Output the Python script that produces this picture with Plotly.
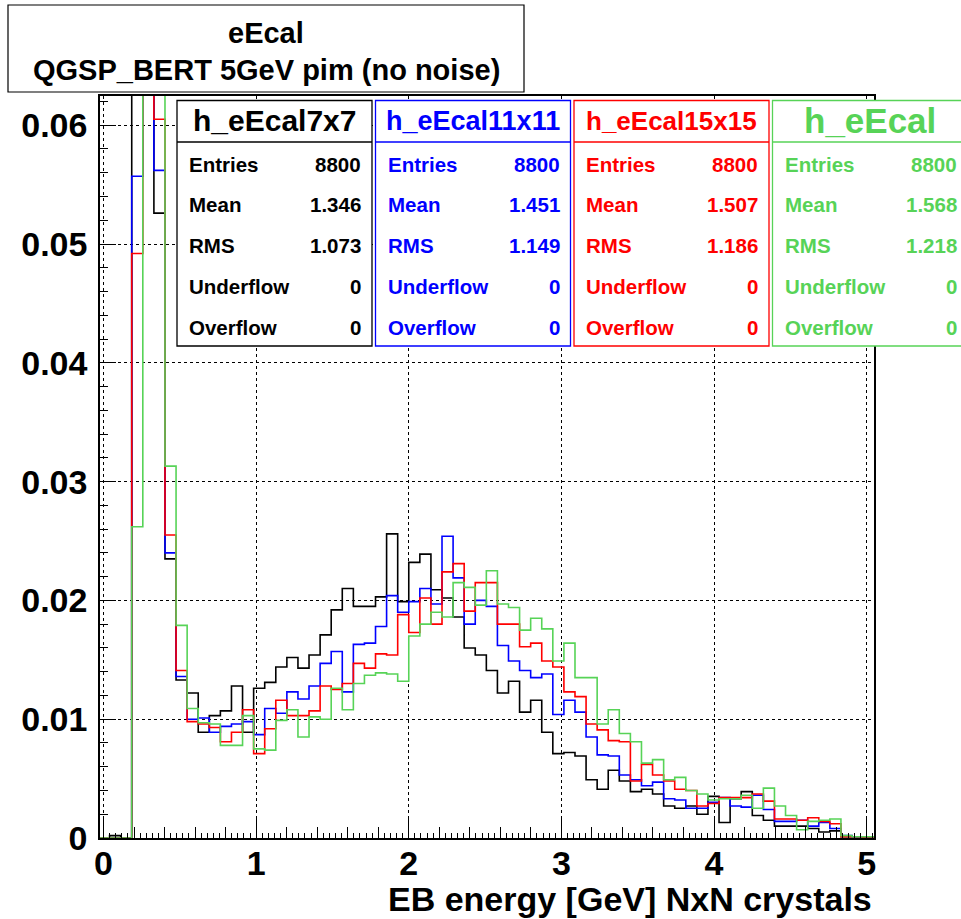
import plotly.graph_objects as go

# ---------------- data ----------------
bin_low = -0.0328
bin_width = 0.0726

names = ["h_eEcal7x7", "h_eEcal11x11", "h_eEcal15x15", "h_eEcal"]

h_7x7 = [0, 0.0002, 0, 0.070, 0.090, 0.0526, 0.0235, 0.0133, 0.0122, 0.0089,
         0.0103, 0.0107, 0.0128, 0.0089, 0.0126, 0.0131, 0.0144, 0.0152, 0.0143, 0.0154,
         0.0171, 0.0192, 0.0210, 0.0195, 0.0195, 0.0203, 0.0256, 0.0199, 0.0232, 0.0239,
         0.0209, 0.0202, 0.0186, 0.0160, 0.0154, 0.0141, 0.0122, 0.0132, 0.0106, 0.0116,
         0.0089, 0.0071, 0.0072, 0.0069, 0.0049, 0.0041, 0.0057, 0.0048, 0.0039, 0.0041,
         0.0037, 0.0027, 0.0025, 0.0027, 0.0020, 0.0035, 0.0013, 0.0033, 0.0039, 0.0019,
         0.0015, 0.0010, 0.0010, 0.0010, 0.0008, 0.0005, 0.0006, 0.0001, 0.0001, 0.0]

h_11x11 = [0, 0, 0, 0.0557, 0.085, 0.0562, 0.0240, 0.0136, 0.0100, 0.0101,
           0.0089, 0.0094, 0.0096, 0.0098, 0.0087, 0.0109, 0.0105, 0.0123, 0.0117, 0.0128,
           0.0147, 0.0157, 0.0123, 0.0163, 0.0164, 0.0178, 0.0204, 0.0190, 0.0199, 0.0210,
           0.0197, 0.0254, 0.0219, 0.0180, 0.0200, 0.0195, 0.0162, 0.0149, 0.0141, 0.0135,
           0.0138, 0.0104, 0.0116, 0.0106, 0.0085, 0.0070, 0.0069, 0.0053, 0.0049, 0.0044,
           0.0047, 0.0033, 0.0032, 0.0025, 0.0025, 0.0030, 0.0034, 0.0027, 0.0026, 0.0036,
           0.0024, 0.0014, 0.0014, 0.0015, 0.0010, 0.0013, 0.0008, 0.0002, 0.0001, 0.0]

h_15x15 = [0, 0, 0, 0.0492, 0.080, 0.0605, 0.0255, 0.0141, 0.0098, 0.0096,
           0.0093, 0.0081, 0.0089, 0.0108, 0.0071, 0.0092, 0.0116, 0.0103, 0.0103, 0.0107,
           0.0128, 0.0125, 0.0130, 0.0147, 0.0143, 0.0155, 0.0154, 0.0188, 0.0173, 0.0202,
           0.0180, 0.0224, 0.0231, 0.0191, 0.0215, 0.0215, 0.0180, 0.0180, 0.0161, 0.0164,
           0.0149, 0.0144, 0.0123, 0.0119, 0.0096, 0.0091, 0.0082, 0.0081, 0.0048, 0.0062,
           0.0053, 0.0048, 0.0041, 0.0040, 0.0027, 0.0029, 0.0034, 0.0034, 0.0034, 0.0037,
           0.0031, 0.0016, 0.0016, 0.0015, 0.0017, 0.0014, 0.0012, 0.0001, 0.0001, 0.0]

h_full = [0, 0, 0, 0.0262, 0.075, 0.068, 0.0313, 0.0179, 0.0109, 0.0097,
          0.0096, 0.0078, 0.0078, 0.0103, 0.0075, 0.0074, 0.0099, 0.0108, 0.0085, 0.0102,
          0.0100, 0.0126, 0.0108, 0.0130, 0.0137, 0.0139, 0.0138, 0.0132, 0.0170, 0.0180,
          0.0190, 0.0186, 0.0215, 0.0211, 0.0196, 0.0225, 0.0197, 0.0194, 0.0175, 0.0185,
          0.0176, 0.0149, 0.0164, 0.0135, 0.0135, 0.0096, 0.0108, 0.0088, 0.0081, 0.0063,
          0.0066, 0.0049, 0.0051, 0.0040, 0.0037, 0.0032, 0.0033, 0.0033, 0.0036, 0.0025,
          0.0042, 0.0027, 0.0019, 0.0007, 0.0014, 0.0015, 0.0016, 0.0002, 0.0001, 0.0001]

entries = ["8800", "8800", "8800", "8800"]
means = ["1.346", "1.451", "1.507", "1.568"]
rms_vals = ["1.073", "1.149", "1.186", "1.218"]
underflows = ["0", "0", "0", "0"]
overflows = ["0", "0", "0", "0"]

y_ticks = [0, 0.01, 0.02, 0.03, 0.04, 0.05, 0.06]
y_tick_text = ["0", "0.01", "0.02", "0.03", "0.04", "0.05", "0.06"]
x_ticks = [0, 1, 2, 3, 4, 5]

title_lines = ["eEcal", "QGSP_BERT 5GeV pim (no noise)"]
x_title = "EB energy [GeV] NxN crystals"

# ---------------- style ----------------
colors = ["#000000", "#0000ff", "#ff0000", "#57d357"]
FONT = "Liberation Sans, Arial, Helvetica, sans-serif"

FIG_W, FIG_H = 961, 919
L, R, T, B = 100, 874, 96, 838
PW, PH = R - L, B - T


def px2x(px):
    return (px - L) / PW


def py2y(py):
    return (B - py) / PH


fig = go.Figure()
series = [h_7x7, h_11x11, h_15x15, h_full]
nb = len(h_7x7)
edges = [bin_low + i * bin_width for i in range(nb + 1)]
for name, vals, col in zip(names, series, colors):
    fig.add_trace(go.Scatter(
        x=edges, y=list(vals) + [vals[-1]], mode="lines",
        line=dict(color=col, width=1.6, shape="hv"),
        name=name, showlegend=False, hoverinfo="skip"))

shapes = []
annotations = []

# title box
shapes.append(dict(type="rect", xref="paper", yref="paper",
                   x0=px2x(8), x1=px2x(524), y0=py2y(92), y1=py2y(5),
                   line=dict(color="black", width=1.2), fillcolor="white", layer="above"))
annotations.append(dict(text="<b>%s</b>" % title_lines[0], xref="paper", yref="paper",
                        x=px2x(266), y=py2y(33), xanchor="center", yanchor="middle",
                        showarrow=False, font=dict(family=FONT, size=29, color="black")))
annotations.append(dict(text="<b>%s</b>" % title_lines[1], xref="paper", yref="paper",
                        x=px2x(266), y=py2y(70), xanchor="center", yanchor="middle",
                        showarrow=False, font=dict(family=FONT, size=29, color="black")))

# stat boxes
box_left = [177, 375.5, 574, 772.5]
box_w = 195
box_top, box_sep, box_bot = 100.5, 142, 346
header_sizes = [30, 27, 26, 35]
row_y = [164, 204.5, 245.5, 286.5, 327]
row_labels = ["Entries", "Mean", "RMS", "Underflow", "Overflow"]
for i in range(4):
    x0 = box_left[i]
    x1 = x0 + box_w
    col = colors[i]
    shapes.append(dict(type="rect", xref="paper", yref="paper",
                       x0=px2x(x0), x1=px2x(x1), y0=py2y(box_bot), y1=py2y(box_top),
                       line=dict(color=col, width=1.3), fillcolor="white", layer="above"))
    shapes.append(dict(type="line", xref="paper", yref="paper",
                       x0=px2x(x0), x1=px2x(x1), y0=py2y(box_sep), y1=py2y(box_sep),
                       line=dict(color=col, width=1.3), layer="above"))
    annotations.append(dict(text="<b>%s</b>" % names[i], xref="paper", yref="paper",
                            x=px2x((x0 + x1) / 2), y=py2y(121), xanchor="center", yanchor="middle",
                            showarrow=False,
                            font=dict(family=FONT, size=header_sizes[i], color=col)))
    vals = [entries[i], means[i], rms_vals[i], underflows[i], overflows[i]]
    for lab, v, yy in zip(row_labels, vals, row_y):
        annotations.append(dict(text="<b>%s</b>" % lab, xref="paper", yref="paper",
                                x=px2x(x0 + 10), y=py2y(yy), xanchor="left", yanchor="middle",
                                showarrow=False, font=dict(family=FONT, size=20.5, color=col)))
        annotations.append(dict(text="<b>%s</b>" % v, xref="paper", yref="paper",
                                x=px2x(x1 - 9), y=py2y(yy), xanchor="right", yanchor="middle",
                                showarrow=False, font=dict(family=FONT, size=20.5, color=col)))

# x-axis title
annotations.append(dict(text="<b>%s</b>" % x_title, xref="paper", yref="paper",
                        x=px2x(874), y=py2y(899), xanchor="right", yanchor="middle",
                        showarrow=False, font=dict(family=FONT, size=34, color="black")))

x_range = [-0.0229, 5.048]
y_range = [0, 0.06246]

fig.update_layout(
    width=FIG_W, height=FIG_H,
    margin=dict(l=L, r=FIG_W - R, t=T, b=FIG_H - B, pad=0),
    paper_bgcolor="white", plot_bgcolor="white",
    shapes=shapes, annotations=annotations,
    xaxis=dict(range=x_range, tickvals=x_ticks, ticktext=[str(v) for v in x_ticks],
               ticks="inside", ticklen=20, tickwidth=1.2, tickcolor="black",
               minor=dict(dtick=0.2, tick0=0, ticks="inside", ticklen=11, tickwidth=1.1,
                          tickcolor="black", showgrid=False),
               showgrid=True, gridcolor="black", griddash="dot", gridwidth=1,
               showline=True, linecolor="black", linewidth=1.5, mirror=True,
               zeroline=False, ticklabelstandoff=-6,
               tickfont=dict(family=FONT, size=34, color="black", weight="bold")),
    xaxis2=dict(range=x_range, overlaying="x", anchor="y", side="bottom",
                dtick=0.04, tick0=0, ticks="inside", ticklen=5, tickwidth=1,
                tickcolor="black", showticklabels=False, showgrid=False,
                zeroline=False, showline=False),
    yaxis=dict(range=y_range, tickvals=y_ticks, ticktext=y_tick_text,
               ticks="inside", ticklen=16, tickwidth=1.2, tickcolor="black",
               minor=dict(dtick=0.002, tick0=0, ticks="inside", ticklen=8, tickwidth=1.1,
                          tickcolor="black", showgrid=False),
               showgrid=True, gridcolor="black", griddash="dot", gridwidth=1,
               showline=True, linecolor="black", linewidth=1.5, mirror=True,
               zeroline=False, ticklabelstandoff=4,
               tickfont=dict(family=FONT, size=34, color="black", weight="bold")),
)

# dummy trace to activate xaxis2
fig.add_trace(go.Scatter(x=[x_range[0]], y=[0], xaxis="x2", yaxis="y", mode="markers",
                         marker=dict(opacity=0), showlegend=False, hoverinfo="skip"))

fig.write_html("out.html")
